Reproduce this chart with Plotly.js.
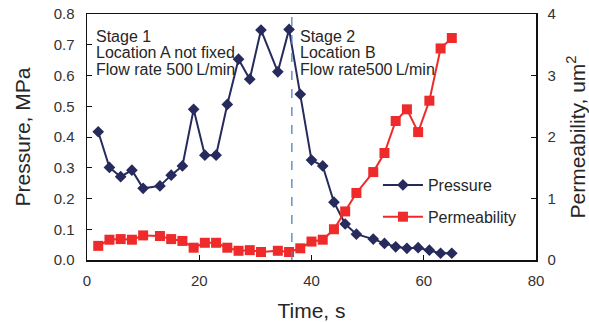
<!DOCTYPE html>
<html>
<head>
<meta charset="utf-8">
<script src="https://cdn.plot.ly/plotly-3.0.1.min.js"></script>
<style>
  html, body { margin: 0; padding: 0; background: #fff; }
  #chart { width: 589px; height: 322px; }
</style>
</head>
<body>
<div id="chart"></div>
<script>
// Time of each reading, s
const time = [2, 4, 6, 8, 10, 13, 15, 17, 19, 21, 23, 25, 27, 29, 31, 34, 36, 38, 40, 42, 44, 46, 48, 51, 53, 55, 57, 59, 61, 63, 65];
// Injection pressure, MPa
const pressure = [0.417, 0.301, 0.271, 0.292, 0.233, 0.241, 0.276, 0.306, 0.490, 0.341, 0.341, 0.506, 0.653, 0.588, 0.748, 0.612, 0.750, 0.539, 0.325, 0.306, 0.188, 0.117, 0.084, 0.068, 0.054, 0.043, 0.038, 0.040, 0.032, 0.022, 0.022];
// Permeability, um^2
const permeability = [0.23, 0.33, 0.34, 0.33, 0.40, 0.39, 0.34, 0.31, 0.20, 0.28, 0.28, 0.20, 0.15, 0.16, 0.13, 0.15, 0.13, 0.19, 0.30, 0.33, 0.50, 0.79, 1.09, 1.43, 1.74, 2.26, 2.45, 2.08, 2.59, 3.44, 3.61];
// Boundary between the two stages, s
const stageBoundary = 36.5;

const font = 'Liberation Sans, Arial, sans-serif';
const textColor = '#262626';

const traces = [
  {
    x: time, y: pressure, name: 'Pressure', type: 'scatter', mode: 'lines+markers',
    legendgroup: 'p',
    line: { color: '#262a5c', width: 2 },
    marker: { symbol: 'diamond', size: 9, color: '#262a5c' },
    yaxis: 'y'
  },
  {
    x: time, y: permeability, name: 'Permeability', type: 'scatter', mode: 'lines+markers',
    legendgroup: 'k',
    line: { color: '#ee2a2a', width: 2 },
    marker: { symbol: 'square', size: 10, color: '#ee2a2a' },
    yaxis: 'y2'
  }
];

const stage1 = ['Stage 1', 'Location A not fixed', 'Flow rate 500\u2009L/min'];
const stage2 = ['Stage 2', 'Location B', 'Flow rate500\u2009L/min'];
const annotations = [];
function addLines(lines, x) {
  lines.forEach((t, i) => {
    annotations.push({
      text: t, x: x, xref: 'x', xanchor: 'left',
      y: 0.761 - 0.053 * i, yref: 'y', yanchor: 'top',
      showarrow: false, font: { family: font, size: 16, color: textColor }
    });
  });
}
addLines(stage1, 1.2);
addLines(stage2, 37.6);

const axisCommon = {
  showgrid: false, zeroline: false, showline: true, linecolor: '#111', linewidth: 1.5,
  ticks: 'inside', ticklen: 5, tickcolor: '#111',
  tickfont: { family: font, size: 15, color: '#333' }
};

const layout = {
  width: 589, height: 322,
  margin: { l: 87, r: 53, t: 14, b: 62 },
  paper_bgcolor: '#fff', plot_bgcolor: '#fff',
  showlegend: true,
  legend: {
    x: 0.648, y: 0.374, xanchor: 'left', yanchor: 'top',
    traceorder: 'grouped', tracegroupgap: 8,
    bgcolor: 'rgba(0,0,0,0)', font: { family: font, size: 16, color: textColor },
    itemwidth: 40
  },
  xaxis: Object.assign({}, axisCommon, {
    range: [0, 80], dtick: 20, mirror: true,
    ticklabelstandoff: 6,
    title: { text: 'Time, s', font: { family: font, size: 21, color: textColor }, standoff: 19 }
  }),
  yaxis: Object.assign({}, axisCommon, {
    range: [0, 0.8], dtick: 0.1, tickformat: '.1f',
    ticklabelstandoff: 8,
    title: { text: 'Pressure, MPa', font: { family: font, size: 21, color: textColor }, standoff: 17 }
  }),
  yaxis2: Object.assign({}, axisCommon, {
    range: [0, 4], dtick: 1, overlaying: 'y', side: 'right',
    ticklabelstandoff: 7,
    title: { text: 'Permeability, um<sup>2</sup>', font: { family: font, size: 21, color: textColor }, standoff: 19 }
  }),
  shapes: [{
    type: 'line', xref: 'x', yref: 'paper', x0: stageBoundary, x1: stageBoundary, y0: 0, y1: 1,
    line: { color: '#4f81bd', width: 1.3, dash: 'dash' }
  }],
  annotations: annotations
};

Plotly.newPlot('chart', traces, layout, { displayModeBar: false, staticPlot: true });
</script>
</body>
</html>
